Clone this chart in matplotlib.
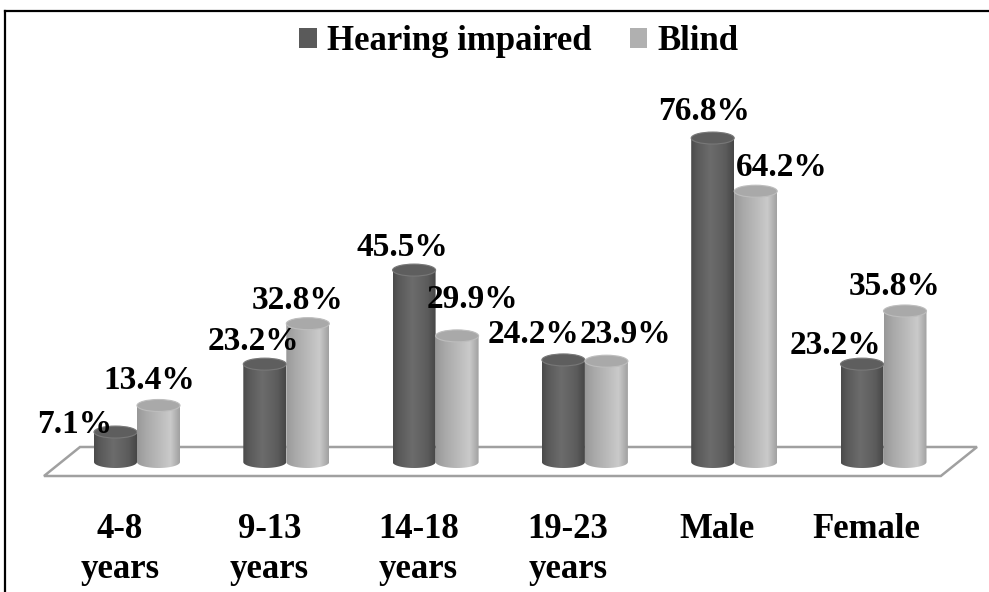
import numpy as np
import matplotlib
matplotlib.use('Agg')
import matplotlib.pyplot as plt
from matplotlib.colors import LinearSegmentedColormap
from matplotlib.patches import Polygon, Ellipse, Patch
from matplotlib.lines import Line2D

# ---------------- data ----------------
categories = ['4-8\nyears', '9-13\nyears', '14-18\nyears', '19-23\nyears', 'Male', 'Female']
hearing_impaired = [7.1, 23.2, 45.5, 24.2, 76.8, 23.2]
blind = [13.4, 32.8, 29.9, 23.9, 64.2, 35.8]
series_names = ['Hearing impaired', 'Blind']

# label placement (pixels, dx right / dy up of label centre from bar top)
hi_label_offsets = [(-41, 11), (-11, 26), (-12, 26), (-30, 28), (-9, 30), (-27, 22)]
bl_label_offsets = [(-9, 28), (-10, 26), (15, 39), (19, 30), (26, 27), (-10, 27)]

# ---------------- layout ----------------
W, H = 989, 592
FONT = 'Liberation Serif'
fig = plt.figure(figsize=(W / 100, H / 100), dpi=100)
ax = fig.add_axes([0, 0, 1, 1])
ax.axis('off')

px_per_cat = 149.3      # horizontal pixels per category
px_per_pct = 4.218      # vertical pixels per percent
x0px, y0px = 137, 462   # pixel position of first group centre / zero line
xlim = (-x0px / px_per_cat, (W - x0px) / px_per_cat)
ylim = (-(H - y0px) / px_per_pct, y0px / px_per_pct)

bar_w = 43 / px_per_cat
cap_h = 12 / px_per_pct

# floor (3D plane)
depth_dx = 36 / px_per_cat
back_y = 15 / px_per_pct
front_y = -14 / px_per_pct
left_x = xlim[0] + 80 / px_per_cat
right_x = xlim[0] + 977 / px_per_cat
floor = Polygon([(left_x, back_y), (right_x, back_y),
                 (right_x - depth_dx - 0.001, front_y), (left_x - depth_dx, front_y)],
                closed=True, facecolor='white', edgecolor='#a0a0a0', lw=1.8, zorder=1)
ax.add_patch(floor)

dark_cmap = LinearSegmentedColormap.from_list(
    'dark', [(0, '#4a4a4a'), (0.15, '#5a5a5a'), (0.45, '#6c6c6c'), (0.8, '#5c5c5c'), (1, '#464646')])
light_cmap = LinearSegmentedColormap.from_list(
    'light', [(0, '#989898'), (0.2, '#a8a8a8'), (0.55, '#bcbcbc'), (0.78, '#cacaca'), (1, '#a0a0a0')])


def cylinder(xc, v, cmap, capcolor, rimcolor, z):
    t = np.linspace(np.pi, 2 * np.pi, 80)
    bx = xc + bar_w / 2 * np.cos(t)
    by = cap_h / 2 * np.sin(t)
    verts = [(xc - bar_w / 2, v)] + list(zip(bx, by)) + [(xc + bar_w / 2, v)]
    body = Polygon(verts, closed=True, facecolor='none', edgecolor='none', zorder=z)
    ax.add_patch(body)
    grad = np.linspace(0, 1, 256)[None, :]
    im = ax.imshow(grad, extent=[xc - bar_w / 2, xc + bar_w / 2, -cap_h / 2, v],
                   aspect='auto', cmap=cmap, zorder=z, interpolation='bilinear')
    im.set_clip_path(body)
    cap = Ellipse((xc, v), bar_w, cap_h, facecolor=capcolor, edgecolor=rimcolor,
                  lw=0.8, zorder=z + 0.1)
    ax.add_patch(cap)


label_kw = dict(textcoords='offset points', ha='center', va='baseline',
                fontsize=24, fontweight='bold', family=FONT, color='black', zorder=20)
half_cap_px = 11.5

for i in range(len(categories)):
    xd = i - bar_w / 2
    xl = i + bar_w / 2
    cylinder(xd, hearing_impaired[i], dark_cmap, '#5e5e5e', '#787878', 3 + i * 0.5)
    cylinder(xl, blind[i], light_cmap, '#a9a9a9', '#bdbdbd', 3.2 + i * 0.5)
    dx, dy = hi_label_offsets[i]
    ax.annotate(f'{hearing_impaired[i]:.1f}%', xy=(xd, hearing_impaired[i]),
                xytext=(dx * 0.72, (dy - half_cap_px) * 0.72), **label_kw)
    dx, dy = bl_label_offsets[i]
    ax.annotate(f'{blind[i]:.1f}%', xy=(xl, blind[i]),
                xytext=(dx * 0.72, (dy - half_cap_px) * 0.72), **label_kw)
    ax.annotate(categories[i], xy=(i, 0), xytext=(-17 * 0.72, -51 * 0.72),
                textcoords='offset points', ha='center', va='top', fontsize=25,
                fontweight='bold', family=FONT, color='black', linespacing=1.3)

ax.set_xlim(*xlim)
ax.set_ylim(*ylim)

# legend
handles = [Patch(facecolor='#5a5a5a', edgecolor='none'), Patch(facecolor='#b0b0b0', edgecolor='none')]
fig.legend(handles=handles, labels=series_names, loc='center',
           bbox_to_anchor=(0.5248, 1 - 42 / H), ncol=2, frameon=False,
           prop=dict(family=FONT, weight='bold', size=25),
           handlelength=0.5, handleheight=0.5, handletextpad=0.3, columnspacing=1.1)

# border (top and left)
fig.add_artist(Line2D([4.5 / W, 1], [1 - 10.5 / H] * 2, transform=fig.transFigure,
                      color='black', lw=1.6))
fig.add_artist(Line2D([4.5 / W] * 2, [0, 1 - 10.5 / H], transform=fig.transFigure,
                      color='black', lw=1.6))

fig.savefig('out.png', dpi=100, facecolor='white')
